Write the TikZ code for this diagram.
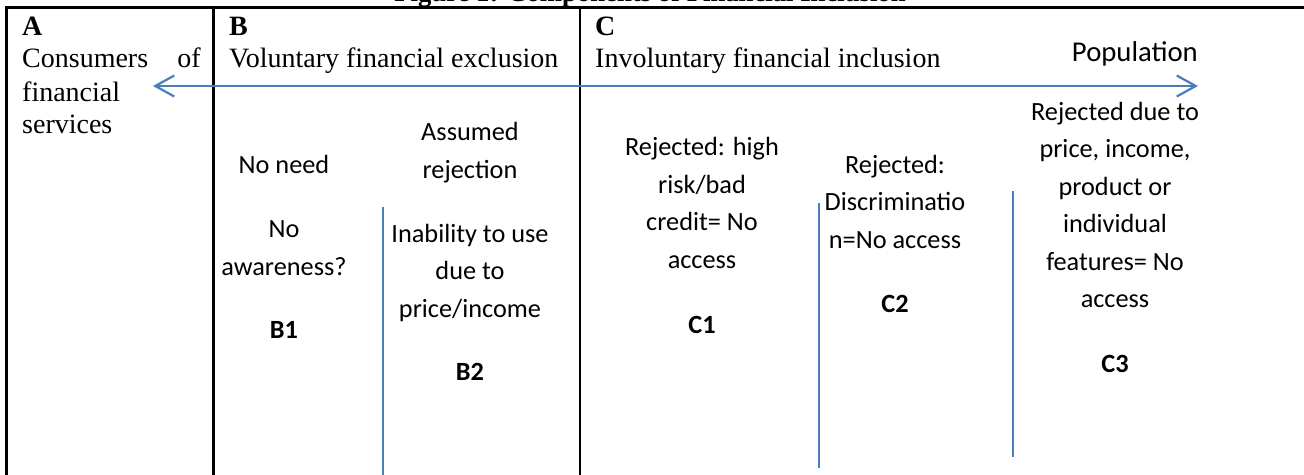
\documentclass[tikz,border=0pt]{standalone}
\usepackage{fontspec}
\setmainfont{Liberation Serif}
\newfontfamily\sansfam{Carlito}
\usetikzlibrary{arrows.meta}
\definecolor{officeblue}{HTML}{4A7EBB}
\newcommand\serifsize{\fontsize{28}{34}\selectfont}
\newcommand\sanssize{\fontsize{26.3}{37.5}\selectfont}
\newcommand\popsize{\fontsize{28.7}{34}\selectfont}
\newcommand\titlesize{\fontsize{26.7}{30}\selectfont}
\begin{document}
\begin{tikzpicture}[x=1pt,y=-1pt,
  frame/.style={line width=2.3pt, black},
  divider/.style={line width=1.5pt, officeblue},
  axisarrow/.style={line width=2.2pt, officeblue,
    {Straight Barb[length=19pt,width=21pt]}-{Straight Barb[length=19pt,width=21pt]}},
  sertxt/.style={font=\serifsize, inner sep=0pt, anchor=base west},
  serhead/.style={font=\serifsize\bfseries, inner sep=0pt, anchor=base west},
  sanstxt/.style={font=\sansfam\sanssize, inner sep=0pt, anchor=base},
  sanslabel/.style={font=\sansfam\sanssize\bfseries, inner sep=0pt, anchor=base},
]
\useasboundingbox (0,0) rectangle (1304,474);
\clip (0,0) rectangle (1304,474);

% title (cut off at top)
\node[font=\titlesize\bfseries, inner sep=0pt, anchor=base] (title) at (650,1) {Figure 1: Components of Financial Inclusion};

% table frame
\coordinate (fBL) at (6.5,476);
\coordinate (fTL) at (6.5,7.5);
\coordinate (fTR) at (1306,7.5);
\coordinate (bT) at (213.5,7.5);
\coordinate (bB) at (213.5,476);
\coordinate (cT) at (580,7.5);
\coordinate (cB) at (580,476);
\draw[frame] (fBL) -- (fTL) -- (fTR);
\draw[frame] (bT) -- (bB);
\draw[frame] (cT) -- (cB);

% headers
\node[serhead] (hA) at (22,35) {A};
\node[serhead] (hB) at (229,35) {B};
\node[serhead] (hC) at (595,35) {C};
\node[sertxt] (a1) at (22,67) {Consumers};
\node[sertxt, anchor=base east] (a1b) at (201,67) {of};
\node[sertxt] (a2) at (22,101) {financial};
\node[sertxt] (a3) at (22,133) {services};
\node[sertxt] (b0) at (229,67) {Voluntary financial exclusion};
\node[sertxt] (c0) at (595,67) {Involuntary financial inclusion};
\node[font=\sansfam\popsize, inner sep=0pt, anchor=base east] (pop) at (1198,61) {Population};

% population arrow
\coordinate (arrL) at (153,86);
\coordinate (arrR) at (1198,86);
\draw[axisarrow] (arrL) -- (arrR);

% blue dividers
\coordinate (v1t) at (383,207);
\coordinate (v1b) at (383,476);
\coordinate (v2t) at (819,203);
\coordinate (v2b) at (819,468);
\coordinate (v3t) at (1013,191);
\coordinate (v3b) at (1013,457);
\draw[divider] (v1t) -- (v1b);
\draw[divider] (v2t) -- (v2b);
\draw[divider] (v3t) -- (v3b);

% B1
\node[sanstxt] (b1a) at (284,173) {No need};
\node[sanstxt] (b1b) at (284,237) {No};
\node[sanstxt] (b1c) at (284,275) {awareness?};
\node[sanslabel] (b1l) at (284,338) {B1};

% B2
\node[sanstxt] (b2a) at (470,140) {Assumed};
\node[sanstxt] (b2b) at (470,178) {rejection};
\node[sanstxt] (b2c) at (470,242) {Inability to use};
\node[sanstxt] (b2d) at (470,279) {due to};
\node[sanstxt] (b2e) at (470,317) {price/income};
\node[sanslabel] (b2l) at (470,380) {B2};

% C1
\node[sanstxt] (c1a) at (702,155) {Rejected: high};
\node[sanstxt] (c1b) at (702,193) {risk/bad};
\node[sanstxt] (c1c) at (702,230) {credit= No};
\node[sanstxt] (c1d) at (702,268) {access};
\node[sanslabel] (c1l) at (702,333) {C1};

% C2
\node[sanstxt] (c2a) at (895,173) {Rejected:};
\node[sanstxt] (c2b) at (895,210) {Discriminatio};
\node[sanstxt] (c2c) at (895,248) {n=No access};
\node[sanslabel] (c2l) at (895,312) {C2};

% C3
\node[sanstxt] (c3a) at (1115,120) {Rejected due to};
\node[sanstxt] (c3b) at (1115,157.5) {price, income,};
\node[sanstxt] (c3c) at (1115,195) {product or};
\node[sanstxt] (c3d) at (1115,232.5) {individual};
\node[sanstxt] (c3e) at (1115,270) {features= No};
\node[sanstxt] (c3f) at (1115,307.5) {access};
\node[sanslabel] (c3l) at (1115,372) {C3};
\end{tikzpicture}
\end{document}
